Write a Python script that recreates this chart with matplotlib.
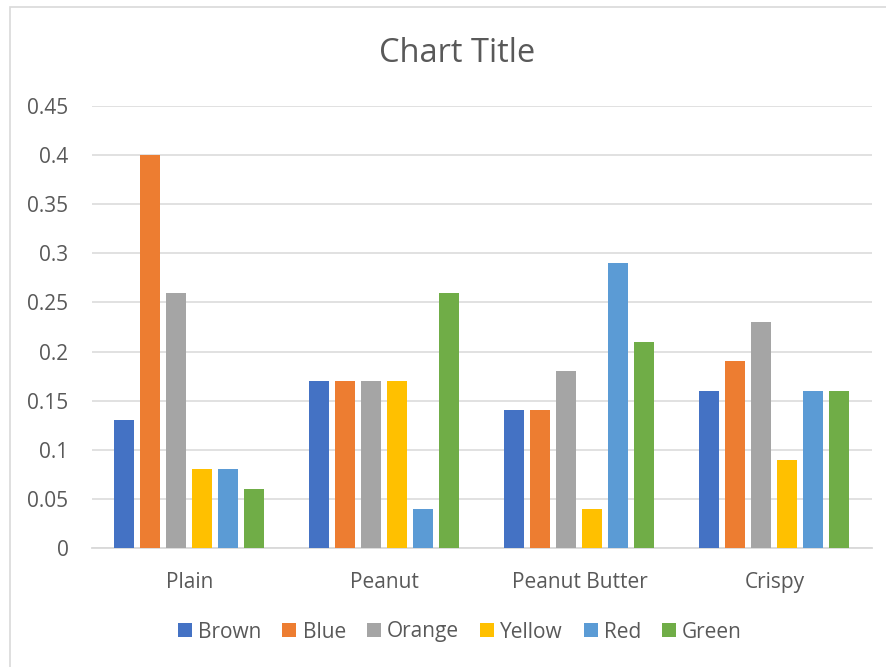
import matplotlib.pyplot as plt
import numpy as np
from matplotlib.patches import Rectangle

categories = ['Plain', 'Peanut', 'Peanut Butter', 'Crispy']
series = ['Brown', 'Blue', 'Orange', 'Yellow', 'Red', 'Green']
colors = ['#4472C4', '#ED7D31', '#A5A5A5', '#FFC000', '#5B9BD5', '#70AD47']

brown = [0.13, 0.17, 0.14, 0.16]
blue = [0.40, 0.17, 0.14, 0.19]
orange = [0.26, 0.17, 0.18, 0.23]
yellow = [0.08, 0.17, 0.04, 0.09]
red = [0.08, 0.04, 0.29, 0.16]
green = [0.06, 0.26, 0.21, 0.16]
values = [brown, blue, orange, yellow, red, green]

yticks = [0, 0.05, 0.1, 0.15, 0.2, 0.25, 0.3, 0.35, 0.4, 0.45]
ytick_labels = ['0', '0.05', '0.1', '0.15', '0.2', '0.25', '0.3', '0.35', '0.4', '0.45']

plt.rcParams['font.family'] = ['Open Sans', 'DejaVu Sans']
text_color = '#595959'

W, H = 887, 667
fig = plt.figure(figsize=(W / 100, H / 100), dpi=100)

# chart border (Excel style)
fig.patches.append(Rectangle((10 / W, -0.05), 1.1, 1 - 7 / H + 0.05,
                             transform=fig.transFigure, fill=False,
                             edgecolor='#D9D9D9', linewidth=1.2))

ax = fig.add_axes([92 / W, 1 - 548 / H, 780 / W, (548 - 106) / H])

x = np.arange(len(categories))
step = 26 / 195
width = 20 / 195
for i, (name, vals, c) in enumerate(zip(series, values, colors)):
    ax.bar(x + (i - 2.5) * step, vals, width=width, color=c, label=name, zorder=3)

ax.set_xlim(-0.5, len(categories) - 0.5)
ax.set_ylim(0, 0.45)
ax.set_yticks(yticks)
ax.set_yticklabels(ytick_labels)
ax.set_xticks(x)
ax.set_xticklabels(categories)
ax.tick_params(axis='both', length=0, labelsize=15, labelcolor=text_color)
ax.tick_params(axis='x', pad=17)
ax.tick_params(axis='y', pad=17)
ax.grid(axis='y', color='#D9D9D9', linewidth=1.1, zorder=0)
for s in ['top', 'right', 'left']:
    ax.spines[s].set_visible(False)
ax.spines['bottom'].set_color('#D9D9D9')
ax.spines['bottom'].set_linewidth(1.3)

fig.text(457 / W, 1 - 54 / H, 'Chart Title', ha='center', va='center',
         fontsize=23.5, color=text_color)

handles, labels = ax.get_legend_handles_labels()
fig.legend(handles, labels, loc='center', bbox_to_anchor=(460 / W, 1 - 632 / H),
           ncol=6, frameon=False, fontsize=15, labelcolor=text_color,
           handlelength=0.67, handleheight=0.67, handletextpad=0.3, columnspacing=1.0)

fig.savefig('out.png', dpi=100)
